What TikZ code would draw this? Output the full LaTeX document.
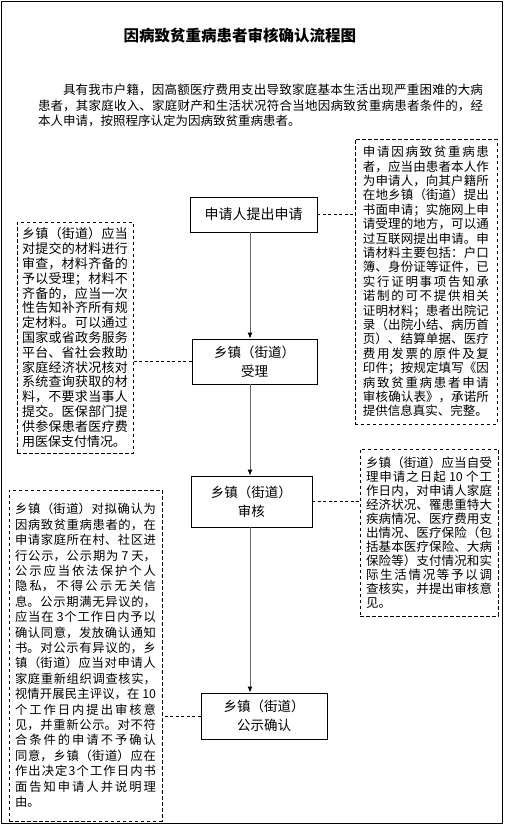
\documentclass[tikz,border=0pt]{standalone}
\usepackage{fontspec}
\setmainfont{Noto Sans CJK SC}
\XeTeXlinebreaklocale "zh"
\XeTeXlinebreakskip=0pt plus 4pt
\usetikzlibrary{arrows.meta}
\pgfdeclarelayer{background}
\pgfsetlayers{background,main}
\tikzstyle{stage}=[draw, line width=0.8pt, inner sep=0pt, align=center,
    font=\fontsize{13.5}{19}\selectfont]
\tikzstyle{note}=[draw, line width=0.6pt, dash pattern=on 3.5pt off 2.5pt,
    inner sep=0pt, align=justify]
\tikzstyle{flow}=[draw=black!60, line width=0.9pt,
    -{Latex[color=black,length=6pt,width=5pt]}]
\tikzstyle{link}=[draw, line width=0.6pt, dash pattern=on 3pt off 2.5pt]
\tolerance=10000
\begin{document}
\begin{tikzpicture}
    \useasboundingbox (0,0) rectangle (17.749,-29.031);

    \path (0,0)+(8.435,-1.265) node (title)
        [font=\fontsize{15.5}{18}\selectfont\bfseries] {因病致贫重病患者审核确认流程图};
    \path (title.center)+(0.721,-2.443) node (intro)
        [text width=445pt, align=justify, inner sep=0pt, font=\fontsize{12.5}{15.5}\selectfont]
        {\hspace*{2em}具有我市户籍，因高额医疗费用支出导致家庭基本生活出现严重困难的大病\break
        患者，其家庭收入、家庭财产和生活状况符合当地因病致贫重病患者条件的，经\break
        本人申请，按照程序认定为因病致贫重病患者。};

    %%% main steps
    \path (0,0)+(8.910,-7.539) node (apply)
        [stage, minimum width=127pt, minimum height=35pt, font=\fontsize{14}{19}\selectfont] {申请人提出申请};
    \path (apply.center)+(0.035,-5.166) node (accept)
        [stage, minimum width=125pt, minimum height=45pt] {乡镇（街道）\\受理};
    \path (accept.center)+(-0.106,-4.921) node (review)
        [stage, minimum width=121pt, minimum height=51pt] {乡镇（街道）\\审核};
    \path (review.center)+(0.440,-7.539) node (publicize)
        [stage, minimum width=126pt, minimum height=46pt] {乡镇（街道）\\公示确认};

    %%% notes
    \path (apply.center)+(6.062,-2.355) node (applynote)
        [note, minimum width=142pt, minimum height=285pt, text width=126pt,
         font=\fontsize{12.5}{14.4}\selectfont]
        {申请因病致贫重病患\break
        者，应当由患者本人作\break
        为申请人，向其户籍所\break
        在地乡镇（街道）提出\break
        书面申请；实施网上申\break
        请受理的地方，可以通\break
        过互联网提出申请。申\break
        请材料主要包括：户口\break
        簿、身份证等证件，已\break
        实行证明事项告知承\break
        诺制的可不提供相关\break
        证明材料；患者出院记\break
        录（出院小结、病历首\break
        页）、结算单据、医疗\break
        费用发票的原件及复\break
        印件；按规定填写《因\break
        病致贫重病患者申请\break
        审核确认表》，承诺所\break
        提供信息真实、完整。};
    \path (accept.center)+(-6.309,0.843) node (acceptnote)
        [note, minimum width=116pt, minimum height=231pt, text width=106pt,
         font=\fontsize{13}{14.8}\selectfont]
        {乡镇（街道）应当\break
        对提交的材料进行\break
        审查，材料齐备的\break
        予以受理；材料不\break
        齐备的，应当一次\break
        性告知补齐所有规\break
        定材料。可以通过\break
        国家或省政务服务\break
        平台、省社会救助\break
        家庭经济状况核对\break
        系统查询获取的材\break
        料，不要求当事人\break
        提交。医保部门提\break
        供参保患者医疗费\break
        用医保支付情况。};
    \path (review.center)+(6.239,-1.089) node (reviewnote)
        [note, minimum width=138pt, minimum height=167pt, text width=126pt,
         font=\fontsize{12.5}{14}\selectfont]
        {乡镇（街道）应当自受\break
        理申请之日起 10 个工\break
        作日内，对申请人家庭\break
        经济状况、罹患重特大\break
        疾病情况、医疗费用支\break
        出情况、医疗保险（包\break
        括基本医疗保险、大病\break
        保险等）支付情况和实\break
        际生活情况等予以调\break
        查核实，并提出审核意\break
        见。};
    \path (publicize.center)+(-6.274,2.127) node (publicnote)
        [note, minimum width=153pt, minimum height=331pt, text width=141pt,
         font=\fontsize{12.3}{15.4}\selectfont]
        {乡镇（街道）对拟确认为\break
        因病致贫重病患者的，在\break
        申请家庭所在村、社区进\break
        行公示，公示期为 7 天，\break
        公示应当依法保护个人\break
        隐私，不得公示无关信\break
        息。公示期满无异议的，\break
        应当在 3个工作日内予以\break
        确认同意，发放确认通知\break
        书。对公示有异议的，乡\break
        镇（街道）应当对申请人\break
        家庭重新组织调查核实，\break
        视情开展民主评议，在 10\break
        个工作日内提出审核意\break
        见，并重新公示。对不符\break
        合条件的申请不予确认\break
        同意，乡镇（街道）应在\break
        作出决定3个工作日内书\break
        面告知申请人并说明理\break
        由。};

    \begin{pgfonlayer}{background}
        \path (0,0)+(0.053,-0.053) coordinate (a);
        \path (0,0)+(17.643,-28.925) coordinate (c);
        \path[draw, line width=0.8pt] (a) rectangle (c);
    \end{pgfonlayer}

    %%% arrows
    \coordinate (spine) at (8.787,0);
    \path [flow] (apply.south -| spine) -- (accept.north -| spine);
    \path [flow] (accept.south -| spine) -- (review.north -| spine);
    \path [flow] (review.south -| spine) -- (publicize.north -| spine);

    \path [link] (apply.east) -- (apply.east -| applynote.west);
    \path [link] (accept.west) -- (accept.west -| acceptnote.east);
    \path [link] (review.east) -- (review.east -| reviewnote.west);
    \path [link] (publicize.west) -- (publicize.west -| publicnote.east);
\end{tikzpicture}
\end{document}
